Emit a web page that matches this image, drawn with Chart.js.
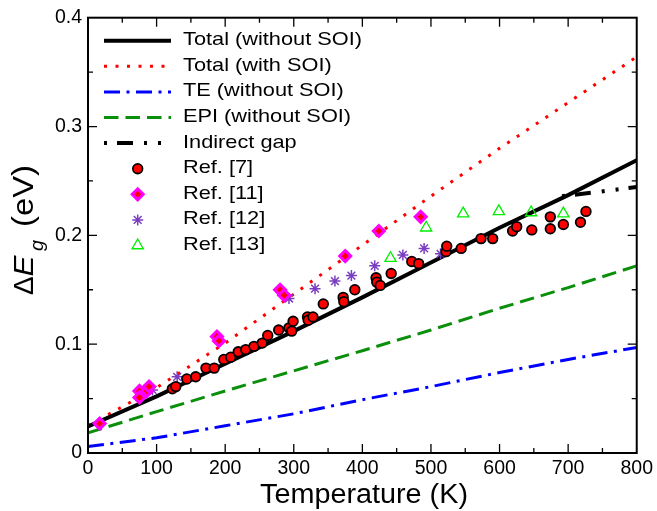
<!DOCTYPE html>
<html>
<head>
<meta charset="utf-8">
<script src="https://cdn.jsdelivr.net/npm/chart.js@4"></script>
<style>
	body { margin: 0; background: #fff; }
	canvas { display: block; }
</style>
</head>
<body>
<canvas id="gapChart" width="657" height="511"></canvas>
<script>
// Curves (temperature in K, gap shift in eV)
const lineT = [0, 100, 200, 300, 400, 500, 600, 700, 800];
const totalNoSOI = [0.0245, 0.052, 0.082, 0.112, 0.143, 0.175, 0.207, 0.237, 0.269];
const totalSOI = [0.025, 0.060, 0.101, 0.146, 0.191, 0.236, 0.280, 0.322, 0.364];
const teNoSOI = [0.006, 0.014, 0.025, 0.036, 0.049, 0.061, 0.074, 0.086, 0.097];
const epiNoSOI = [0.0185, 0.038, 0.057, 0.0755, 0.094, 0.113, 0.133, 0.152, 0.172];
const indirectT = [691, 745, 800];
const indirectGap = [0.236, 0.240, 0.2445];

// Experimental points
const ref7T = [123, 128, 144, 157, 172, 184, 198, 208, 219, 230, 242, 254, 262, 278, 293, 297, 299, 320, 321, 328, 343, 372, 373, 389, 420, 421, 426, 442, 472, 482, 522, 523, 544, 573, 590, 619, 625, 647, 674, 674, 693, 718, 726];
const ref7E = [0.059, 0.061, 0.068, 0.070, 0.078, 0.078, 0.086, 0.088, 0.093, 0.095, 0.098, 0.101, 0.108, 0.113, 0.115, 0.112, 0.121, 0.125, 0.122, 0.125, 0.137, 0.143, 0.139, 0.150, 0.161, 0.157, 0.154, 0.165, 0.176, 0.174, 0.185, 0.190, 0.188, 0.197, 0.197, 0.204, 0.208, 0.205, 0.217, 0.206, 0.210, 0.212, 0.222];
const ref11T = [17, 75, 75, 86, 89, 188, 191, 280, 286, 375, 424, 485];
const ref11E = [0.027, 0.057, 0.051, 0.057, 0.061, 0.107, 0.103, 0.150, 0.145, 0.181, 0.204, 0.217];
const ref12T = [94, 130, 293, 331, 360, 384, 418, 459, 490, 514];
const ref12E = [0.058, 0.070, 0.142, 0.151, 0.158, 0.163, 0.172, 0.182, 0.188, 0.183];
const ref13T = [441, 493, 547, 599, 646, 693];
const ref13E = [0.179, 0.207, 0.220, 0.222, 0.221, 0.220];

const xTickLabels = ['0', '100', '200', '300', '400', '500', '600', '700', '800'];
const yTickLabels = ['0', '0.1', '0.2', '0.3', '0.4'];

const FONT = "'Liberation Sans', Arial, Helvetica, sans-serif";

function pts(xs, ys) {
	return xs.map((x, i) => ({ x: x, y: ys[i] }));
}

function curve(label, xs, ys, color, width, dash) {
	return {
		label: label, data: pts(xs, ys), showLine: true, pointRadius: 0,
		borderColor: color, backgroundColor: color, borderWidth: width,
		borderDash: dash, tension: 0, order: 2
	};
}

function marks(label, xs, ys, style, fill, stroke, radius, width) {
	return {
		label: label, data: pts(xs, ys), showLine: false, pointStyle: style,
		pointRadius: radius, pointBackgroundColor: fill, pointBorderColor: stroke,
		pointBorderWidth: width, order: 1
	};
}

// draws text squeezed/stretched to a given width
function fitText(ctx, text, x, y, w) {
	const k = w / ctx.measureText(text).width;
	ctx.save();
	ctx.translate(x, y);
	ctx.scale(k, 1);
	ctx.fillText(text, 0, 0);
	ctx.restore();
}

const decor = {
	id: 'decor',
	afterDatasetsDraw(chart) {
		const { ctx, chartArea: a, scales: { x, y } } = chart;
		ctx.save();
		ctx.setLineDash([]);
		ctx.strokeStyle = '#000';
		ctx.lineWidth = 1.3;
		ctx.beginPath();
		for (let k = 1; k < 16; k++) {
			const px = x.getPixelForValue(k * 50);
			const len = k % 2 ? 5 : 9;
			ctx.moveTo(px, a.bottom); ctx.lineTo(px, a.bottom - len);
			ctx.moveTo(px, a.top); ctx.lineTo(px, a.top + len);
		}
		for (let k = 1; k < 8; k++) {
			const py = y.getPixelForValue(k * 0.05);
			const len = k % 2 ? 5 : 9;
			ctx.moveTo(a.left, py); ctx.lineTo(a.left + len, py);
			ctx.moveTo(a.right, py); ctx.lineTo(a.right - len, py);
		}
		ctx.stroke();
		ctx.lineWidth = 2;
		ctx.strokeRect(a.left, a.top, a.right - a.left, a.bottom - a.top);

		// legend
		const x0 = 104, x1 = 171, xt = 183, y0 = 40.7, dy = 25.6;
		ctx.font = '19px ' + FONT;
		ctx.fillStyle = '#000';
		ctx.textBaseline = 'alphabetic';
		const k = 179 / ctx.measureText(chart.data.datasets[0].label).width;
		chart.data.datasets.forEach((ds, i) => {
			const ry = y0 + i * dy;
			if (ds.showLine) {
				ctx.setLineDash(ds.borderDash || []);
				ctx.strokeStyle = ds.borderColor;
				ctx.lineWidth = ds.borderWidth;
				ctx.beginPath();
				ctx.moveTo(x0, ry); ctx.lineTo(x1, ry);
				ctx.stroke();
			} else {
				ctx.setLineDash([]);
				ctx.fillStyle = ds.pointBackgroundColor;
				ctx.strokeStyle = ds.pointBorderColor;
				ctx.lineWidth = ds.pointBorderWidth;
				Chart.helpers.drawPoint(ctx, { pointStyle: ds.pointStyle, radius: ds.pointRadius, borderWidth: ds.pointBorderWidth, rotation: 0 }, 137.7, ry);
			}
			ctx.fillStyle = '#000';
			const w = ctx.measureText(ds.label).width * k;
			fitText(ctx, ds.label, xt, ry + 4.5, w);
		});

		// axis titles
		ctx.fillStyle = '#000';
		ctx.font = '27px ' + FONT;
		fitText(ctx, 'Temperature (K)', 260, 503, 208);

		ctx.save();
		ctx.translate(33, 295);
		ctx.rotate(-Math.PI / 2);
		ctx.font = '28px ' + FONT;
		fitText(ctx, 'Δ', 0, 0, 18.5);
		ctx.font = 'italic 28px ' + FONT;
		fitText(ctx, 'E', 18.5, 0, 21);
		ctx.font = 'italic 19px ' + FONT;
		fitText(ctx, 'g', 44, 10, 11);
		ctx.font = '29px ' + FONT;
		fitText(ctx, '(eV)', 68, 0, 62);
		ctx.restore();
		ctx.restore();
	}
};

new Chart(document.getElementById('gapChart'), {
	type: 'scatter',
	data: {
		datasets: [
			curve('Total (without SOI)', lineT, totalNoSOI, '#000000', 4, []),
			curve('Total (with SOI)', lineT, totalSOI, '#ff0000', 3, [3, 8.5]),
			curve('TE (without SOI)', lineT, teNoSOI, '#0000ff', 3, [16, 6.5, 3, 6.5]),
			curve('EPI (without SOI)', lineT, epiNoSOI, '#0a8f0a', 3, [14.5, 7]),
			curve('Indirect gap', indirectT, indirectGap, '#000000', 4, [3, 10, 16, 11, 3, 11]),
			marks('Ref. [7]', ref7T, ref7E, 'circle', '#ff0000', '#000000', 4.8, 1.8),
			marks('Ref. [11]', ref11T, ref11E, 'rectRot', '#ff0000', '#ff00ff', 5.5, 3),
			marks('Ref. [12]', ref12T, ref12E, 'star', '#7a3fc0', '#7a3fc0', 5.5, 1.5),
			marks('Ref. [13]', ref13T, ref13E, 'triangle', 'rgba(0,0,0,0)', '#00ee00', 6.5, 1.3)
		]
	},
	options: {
		responsive: false,
		animation: false,
		layout: { padding: { top: 13, right: 19, left: 0, bottom: 0 } },
		plugins: {
			legend: { display: false },
			tooltip: { enabled: false }
		},
		scales: {
			x: {
				type: 'linear', min: 0, max: 800,
				grid: { display: false, drawTicks: false },
				border: { display: false },
				afterFit: s => { s.height = 58; },
				ticks: {
					stepSize: 100, padding: 4, color: '#000', maxRotation: 0,
					font: { family: FONT, size: 19.5 },
					callback: v => xTickLabels[Math.round(v / 100)]
				}
			},
			y: {
				type: 'linear', min: 0, max: 0.4,
				grid: { display: false, drawTicks: false },
				border: { display: false },
				afterFit: s => { s.width = 88; },
				ticks: {
					stepSize: 0.1, padding: 6, color: '#000',
					font: { family: FONT, size: 19.5 },
					callback: v => yTickLabels[Math.round(v * 10)]
				}
			}
		}
	},
	plugins: [decor]
});
</script>
</body>
</html>
